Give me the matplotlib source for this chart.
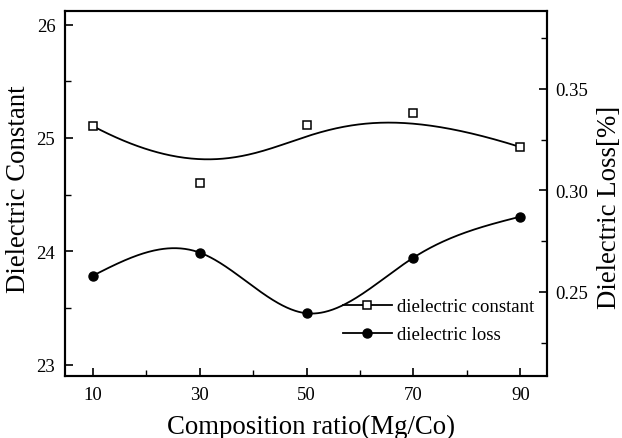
import numpy as np
import matplotlib
matplotlib.use("Agg")
import matplotlib.pyplot as plt
from matplotlib.ticker import MultipleLocator
from matplotlib.lines import Line2D

# ---- data ----
ratio = [10, 30, 50, 70, 90]
dielectric_constant = [25.105, 24.607, 25.114, 25.217, 24.92]
dielectric_loss = [0.258, 0.2694, 0.2395, 0.2669, 0.2871]
x_ticks = [10, 30, 50, 70, 90]
left_ticks = [23, 24, 25, 26]
right_ticks = [0.25, 0.30, 0.35]
right_tick_labels = ['0.25', '0.30', '0.35']


def natural_spline(x, y, xs):
    x = np.asarray(x, float); y = np.asarray(y, float)
    n = len(x)
    h = np.diff(x)
    A = np.zeros((n, n)); b = np.zeros(n)
    A[0, 0] = 1; A[-1, -1] = 1
    for i in range(1, n - 1):
        A[i, i - 1] = h[i - 1]
        A[i, i] = 2 * (h[i - 1] + h[i])
        A[i, i + 1] = h[i]
        b[i] = 6 * ((y[i + 1] - y[i]) / h[i] - (y[i] - y[i - 1]) / h[i - 1])
    M = np.linalg.solve(A, b)
    out = np.empty_like(xs)
    for k, xv in enumerate(xs):
        i = min(max(np.searchsorted(x, xv) - 1, 0), n - 2)
        t0 = x[i + 1] - xv; t1 = xv - x[i]
        out[k] = (M[i] * t0**3 + M[i + 1] * t1**3) / (6 * h[i]) \
            + (y[i] / h[i] - M[i] * h[i] / 6) * t0 \
            + (y[i + 1] / h[i] - M[i + 1] * h[i] / 6) * t1
    return out


def bspline(px, py, n=400, k=3):
    P = np.column_stack([px, py]).astype(float)
    m = len(P)
    inner = np.linspace(0, 1, m - k + 1)
    knots = np.concatenate([[0] * k, inner, [1] * k])
    ts = np.linspace(0, 1, n)
    pts = []
    for t in ts:
        s = np.searchsorted(knots, t, side='right') - 1
        s = min(s, m - 1)
        d = [P[j + s - k].copy() for j in range(k + 1)]
        for r in range(1, k + 1):
            for j in range(k, r - 1, -1):
                i = j + s - k
                den = knots[i + k + 1 - r] - knots[i]
                a = 0 if den == 0 else (t - knots[i]) / den
                d[j] = (1 - a) * d[j - 1] + a * d[j]
        pts.append(d[k])
    pts = np.array(pts)
    return pts[:, 0], pts[:, 1]


plt.rcParams['font.family'] = ['Liberation Serif', 'DejaVu Serif']

W, H = 622, 439
fig = plt.figure(figsize=(W / 100, H / 100), dpi=100)
ax = fig.add_axes([65 / W, 1 - 377 / H, (547 - 65) / W, (377 - 12) / H])
ax2 = ax.twinx()

bx, by = bspline(ratio, dielectric_constant)
ax.plot(bx, by, color='black', lw=1.3)
ax.plot(ratio, dielectric_constant, ls='none', marker='s', ms=5.5,
        mfc='white', mec='black', mew=1.1)

xs = np.linspace(ratio[0], ratio[-1], 400)
ax2.plot(xs, natural_spline(ratio, dielectric_loss, xs), color='black', lw=1.3)
ax2.plot(ratio, dielectric_loss, ls='none', marker='o', ms=6.5,
         mfc='black', mec='black')

ax.set_xlim(4.8, 95)
ax.set_ylim(22.9, 26.12)
ax2.set_ylim(0.2086, 0.3884)

ax.set_xticks(x_ticks)
ax.xaxis.set_minor_locator(MultipleLocator(10))
ax.set_yticks(left_ticks)
ax.yaxis.set_minor_locator(MultipleLocator(0.5))
ax2.set_yticks(right_ticks)
ax2.set_yticklabels(right_tick_labels)
ax2.yaxis.set_minor_locator(MultipleLocator(0.025))

for a in (ax, ax2):
    a.tick_params(which='major', direction='in', length=6, width=1.2, labelsize=13.5)
    a.tick_params(which='minor', direction='in', length=4, width=1.0)
    for sp in a.spines.values():
        sp.set_linewidth(1.5)
ax.tick_params(axis='x', pad=7)
ax.tick_params(axis='y', pad=7)
ax2.tick_params(axis='y', pad=6)

fig.text(311 / W, 1 - 427 / H, 'Composition ratio(Mg/Co)', fontsize=19.3,
         ha='center', va='center')
fig.text(19 / W, 1 - 189 / H, 'Dielectric Constant', fontsize=19.3,
         ha='center', va='center', rotation=90)
fig.text(609 / W, 1 - 207 / H, 'Dielectric Loss[%]', fontsize=19.3,
         ha='center', va='center', rotation=90)

handles = [
    Line2D([], [], color='black', lw=1.3, marker='s', ms=5.5, mfc='white', mec='black', mew=1.1),
    Line2D([], [], color='black', lw=1.3, marker='o', ms=6.5, mfc='black', mec='black'),
]
fig.legend(handles, ['dielectric constant', 'dielectric loss'], frameon=False,
           fontsize=13.5, loc='upper left',
           bbox_to_anchor=(343 / W, 1 - 299 / H), bbox_transform=fig.transFigure,
           borderpad=0, borderaxespad=0,
           handlelength=2.6, handletextpad=0.27, labelspacing=0.58)

fig.savefig('out.png', dpi=100)
